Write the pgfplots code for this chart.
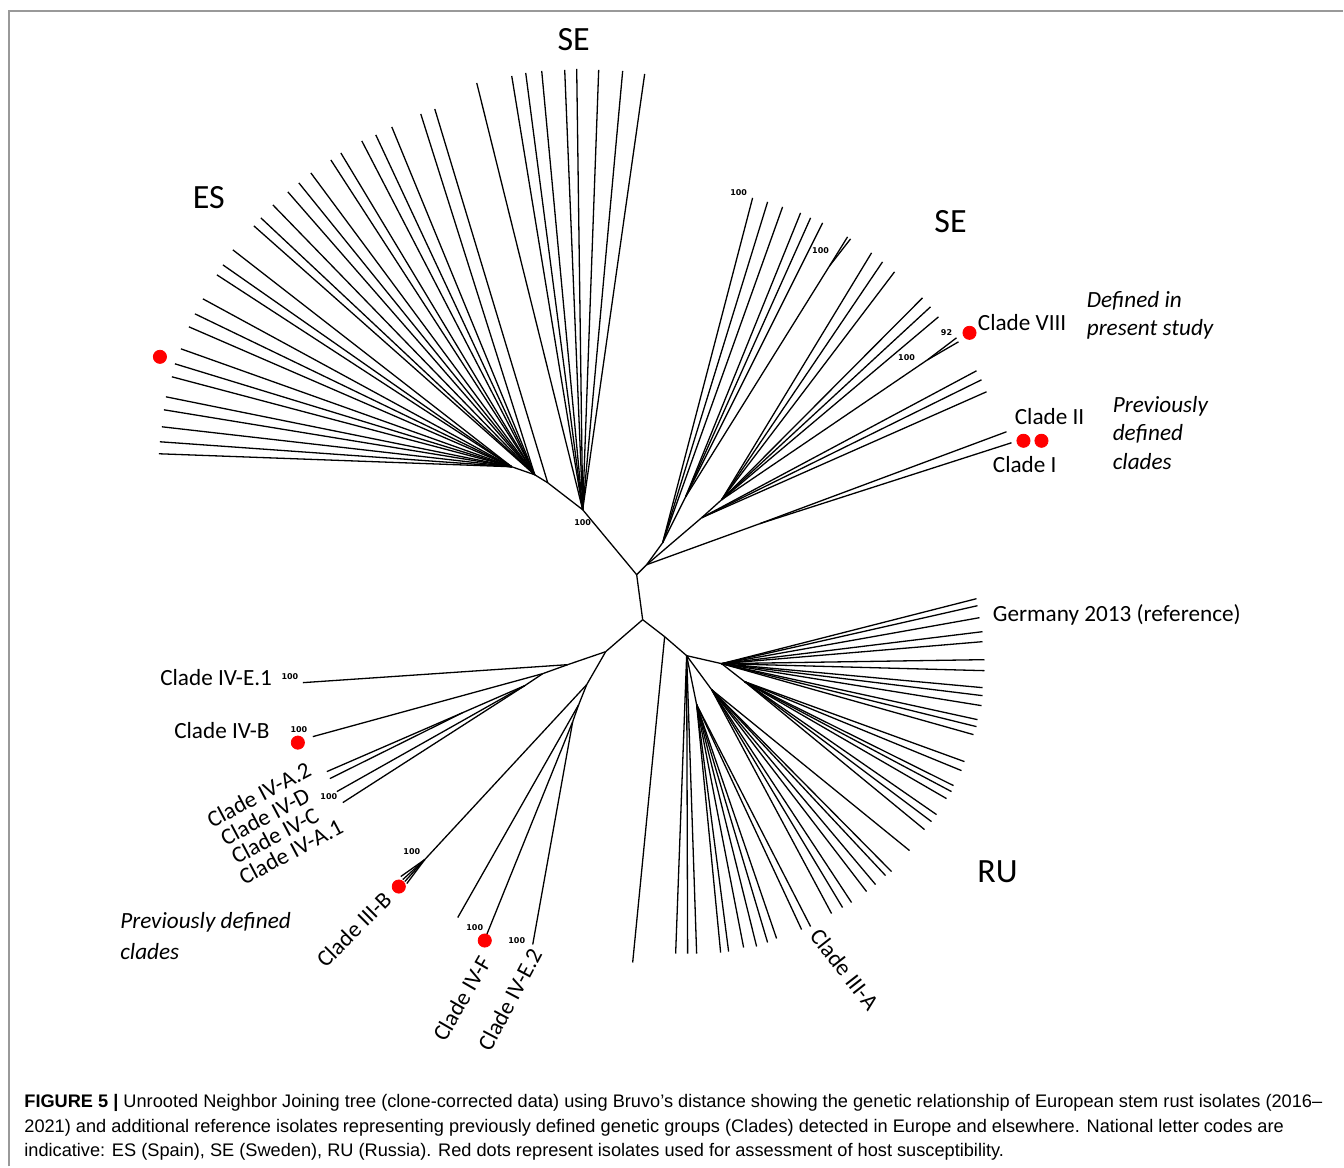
\documentclass[border=0pt]{standalone}
\usepackage{pgfplots}
\pgfplotsset{compat=1.18}
\usepackage{pgfplotstable}
\usepackage{fontspec}
\setmainfont{Carlito}
\newfontfamily\capfont{Liberation Sans}
\newfontfamily\bsfont{DejaVu Sans}

% tree edges in picture pixels: from (x,y) to (tx,ty)
\pgfplotstableread{
x y tx ty
637 575 643 620
637 575 583 510
637 575 647 565
583 510 548 483
548 483 535 475
535 475 512 467
647 565 663 543
663 543 686 497
647 565 702 518
702 518 722 500
647 565 760 524
686 497 830 266
722 500 928 360
643 620 606 652
643 620 665 637
606 652 568 665
568 665 543 674
543 674 525 686
525 686 463 713
606 652 587 685
587 685 579 705
579 705 573 722
587 685 425 860
665 637 687 656
687 656 722 664
722 664 745 682
687 656 712 690
687 656 697 705
583 510 477 83
583 510 512 76
583 510 526 73
583 510 542 71
583 510 565 70
583 510 577 69
583 510 599 70
583 510 623 71
583 510 645 74
548 483 435 109
535 475 421 114
535 475 392 127
535 475 376 135
535 475 362 141
535 475 341 153
535 475 331 160
535 475 311 173
535 475 299 183
535 475 288 192
535 475 273 205
535 475 261 218
535 475 254 226
512 467 233 250
512 467 223 265
512 467 217 275
512 467 203 299
512 467 195 314
512 467 189 327
512 467 181 349
512 467 175 364
512 467 172 377
512 467 166 397
512 467 164 410
512 467 162 427
512 467 160 442
512 467 159 454
663 543 753 198
663 543 768 202
663 543 783 207
686 497 801 213
686 497 811 218
686 497 823 223
830 266 848 237
830 266 851 239
702 518 977 371
702 518 982 380
702 518 987 392
722 500 872 253
722 500 883 262
722 500 895 272
722 500 923 298
722 500 931 307
722 500 939 317
928 360 957 338
928 360 959 342
760 524 1007 432
760 524 1012 443
568 665 303 683
543 674 313 737
463 713 327 772
463 713 330 779
525 686 337 792
525 686 343 803
425 860 401 877
425 860 403 880
425 860 405 882
425 860 407 884
579 705 458 918
573 722 485 940
573 722 533 945
665 637 633 963
687 656 676 954
687 656 688 954
687 656 697 954
697 705 721 953
697 705 729 952
697 705 744 948
697 705 757 947
697 705 768 943
697 705 777 939
697 705 802 930
697 705 811 927
712 690 832 914
712 690 843 908
712 690 852 903
712 690 867 892
712 690 876 885
712 690 886 876
712 690 892 872
712 690 910 851
745 682 925 830
745 682 932 822
745 682 937 815
745 682 947 799
745 682 952 792
745 682 954 786
745 682 962 771
745 682 965 762
722 664 974 735
722 664 977 727
722 664 978 720
722 664 982 706
722 664 983 696
722 664 983 688
722 664 985 671
722 664 985 660
722 664 983 642
722 664 983 632
722 664 980 618
722 664 978 606
722 664 977 599
}\edges

\begin{document}
\begin{tikzpicture}[
  lab/.style={font=\fontsize{11.6}{13}\selectfont, inner sep=0pt},
  labi/.style={font=\itshape\fontsize{11.6}{13}\selectfont, inner sep=0pt, anchor=west},
  biglab/.style={font=\fontsize{17}{19}\selectfont, inner sep=0pt},
  bs/.style={font=\bsfont\bfseries\fontsize{4}{5}\selectfont, inner sep=0pt},
  capt/.style={font=\capfont\fontsize{9.1}{10}\selectfont, inner sep=0pt, anchor=west},
]
\begin{axis}[
  width=672pt, height=583.5pt, scale only axis,
  xmin=0, xmax=1344, ymin=0, ymax=1167, y dir=reverse,
  hide axis, clip=false,
]
\path (axis cs:0,0) rectangle (axis cs:1344,1167);
\draw[gray!80, line width=0.7pt] (axis cs:9,1167) -- (axis cs:9,11) -- (axis cs:1344,11);

\addplot[black, line width=0.65pt, quiver={u=\thisrow{tx}-\thisrow{x}, v=\thisrow{ty}-\thisrow{y}}]
  table[x=x, y=y] {\edges};

% isolates used for host susceptibility
\addplot[only marks, mark=*, mark size=3.3pt, color=red] coordinates {
  (160,357) (970,333) (1024,441) (1042,441) (298,743) (399,887) (485,941)};

% group codes
\node[biglab] at (axis cs:574,40) {SE};
\node[biglab] at (axis cs:209,198) {ES};
\node[biglab] at (axis cs:951,222) {SE};
\node[biglab] at (axis cs:998,872) {RU};

% clade labels
\node[lab, anchor=west] at (axis cs:978,323) {Clade VIII};
\node[lab, anchor=west] at (axis cs:1015,417) {Clade II};
\node[lab, anchor=west] at (axis cs:993,465) {Clade I};
\node[lab, anchor=west] at (axis cs:993,615) {Germany 2013 (reference)};
\node[lab, anchor=west] at (axis cs:160,678) {Clade IV-E.1};
\node[lab, anchor=west] at (axis cs:174,731) {Clade IV-B};
\node[lab, rotate=28] at (axis cs:259,795) {Clade IV-A.2};
\node[lab, rotate=28] at (axis cs:265,817) {Clade IV-D};
\node[lab, rotate=28] at (axis cs:275,836) {Clade IV-C};
\node[lab, rotate=28] at (axis cs:291,852) {Clade IV-A.1};
\node[lab, rotate=45] at (axis cs:354,930) {Clade III-B};
\node[lab, rotate=60] at (axis cs:462,999) {Clade IV-F};
\node[lab, rotate=62] at (axis cs:510,1000) {Clade IV-E.2};
\node[lab, rotate=-52] at (axis cs:845,970) {Clade III-A};

\node[labi] at (axis cs:1087,301) {Defined in};
\node[labi] at (axis cs:1087,329) {present study};
\node[labi] at (axis cs:1113,407) {Previously};
\node[labi] at (axis cs:1113,434) {defined};
\node[labi] at (axis cs:1113,462) {clades};
\node[labi] at (axis cs:120,923) {Previously defined};
\node[labi] at (axis cs:120,952) {clades};

% bootstrap support
\node[bs] at (axis cs:739,193) {100};
\node[bs] at (axis cs:821,251) {100};
\node[bs] at (axis cs:907,358) {100};
\node[bs] at (axis cs:947,333) {92};
\node[bs] at (axis cs:583,523) {100};
\node[bs] at (axis cs:290,677) {100};
\node[bs] at (axis cs:299,730) {100};
\node[bs] at (axis cs:329,797) {100};
\node[bs] at (axis cs:412,852) {100};
\node[bs] at (axis cs:475,928) {100};
\node[bs] at (axis cs:517,941) {100};

% caption
\node[capt] at (axis cs:24,1103) {{\bfseries FIGURE 5 |} Unrooted Neighbor Joining tree (clone-corrected data) using Bruvo’s distance showing the genetic relationship of European stem rust isolates (2016–};
\node[capt] at (axis cs:24,1128) {2021) and additional reference isolates representing previously defined genetic groups (Clades) detected in Europe and elsewhere. National letter codes are};
\node[capt] at (axis cs:24,1152) {indicative: ES (Spain), SE (Sweden), RU (Russia). Red dots represent isolates used for assessment of host susceptibility.};
\end{axis}
\end{tikzpicture}
\end{document}
